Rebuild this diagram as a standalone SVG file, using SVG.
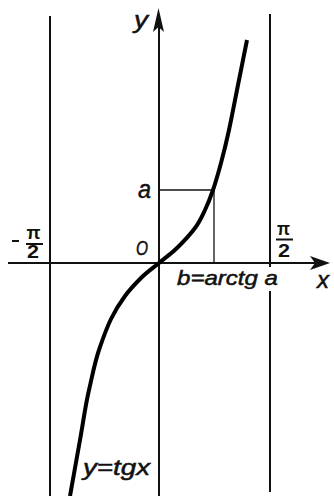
<svg xmlns="http://www.w3.org/2000/svg" width="334" height="496" viewBox="0 0 334 496">
<style>
.ax{stroke:#111;stroke-width:2;fill:none}
.thin{stroke:#111;stroke-width:1.3;fill:none}
.curve{stroke:#000;stroke-width:4;fill:none;stroke-linecap:butt}
.t{font-family:"Liberation Sans",Arial,sans-serif;font-style:italic;fill:#111;stroke:#111;stroke-width:0.5}
.u{font-family:"Liberation Sans",Arial,sans-serif;font-weight:bold;fill:#111}
</style>
<rect width="334" height="496" fill="#fff"/>
<g id="asymptotes">
<line class="ax" x1="50" y1="16" x2="50" y2="496"/>
<line class="ax" x1="270" y1="14" x2="270" y2="267"/>
<line class="ax" x1="270" y1="291" x2="270" y2="492"/>
</g>
<g id="axes">
<line class="ax" x1="8" y1="263" x2="318" y2="263"/>
<path d="M330,263 L310,256 L315,263 L310,270 Z" fill="#111"/>
<line class="ax" x1="159" y1="24" x2="159" y2="496"/>
<path d="M158.5,8 L153,32 L158.5,27 L164,32 Z" fill="#111"/>
</g>
<g id="guides">
<line class="thin" x1="160" y1="190" x2="213" y2="190"/>
<line class="thin" x1="214" y1="190" x2="214" y2="263"/>
</g>
<g id="curve">
<path class="curve" d="M70,496 C71.7,486.7 76.8,457.7 80,440 C83.2,422.3 85.3,405.8 89,390 C92.7,374.2 94.7,362.5 99,350 C103.3,337.5 105.7,330 111,319 C116.3,308 119.7,303.2 125,296 C130.3,288.8 135.7,283.3 141,278 C146.3,272.7 153,268 159,263 C165,258 171,253.8 177,248 C183,242.2 190.3,234.3 195,228 C199.7,221.7 202,216.3 205,210 C208,203.7 210.3,197.8 213,190 C215.7,182.2 218.3,173 221,163 C223.7,153 226.2,143 229,130 C231.8,117 235,100 238,85 C241,70 245.5,47.5 247,40"/>
</g>
<g id="labels">
<text class="t" x="134" y="28" font-size="24" textLength="14" lengthAdjust="spacingAndGlyphs">y</text>
<text class="t" x="138" y="198" font-size="25" textLength="13" lengthAdjust="spacingAndGlyphs">a</text>
<text class="t" x="136" y="255" font-size="20" textLength="12" lengthAdjust="spacingAndGlyphs">O</text>
<g id="minus-pi-half">
<line class="ax" x1="12" y1="241" x2="19" y2="241"/>
<text class="u" x="26.5" y="239" font-size="19" textLength="14" lengthAdjust="spacingAndGlyphs">π</text>
<line class="ax" x1="26" y1="244" x2="43" y2="244"/>
<text class="u" x="27" y="258" font-size="18" textLength="12" lengthAdjust="spacingAndGlyphs">2</text>
</g>
<g id="pi-half">
<text class="u" x="277" y="235" font-size="19" textLength="13" lengthAdjust="spacingAndGlyphs">π</text>
<line class="ax" x1="276" y1="239.5" x2="293" y2="239.5"/>
<text class="u" x="278" y="257" font-size="18" textLength="12" lengthAdjust="spacingAndGlyphs">2</text>
</g>
<text class="t" x="177" y="285" font-size="21" textLength="101" lengthAdjust="spacingAndGlyphs">b=arctg a</text>
<text class="t" x="317" y="288" font-size="23" textLength="12" lengthAdjust="spacingAndGlyphs">x</text>
<text class="t" x="83" y="475" font-size="22" textLength="67" lengthAdjust="spacingAndGlyphs">y=tgx</text>
</g>
</svg>
